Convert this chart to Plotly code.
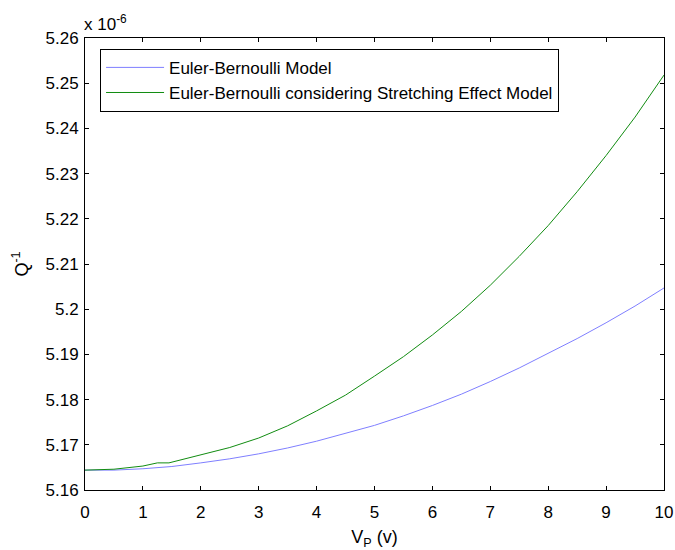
import plotly.graph_objects as go

# Data (Q^-1 in units of 1e-6)
vp_blue = [0, 0.5, 1, 1.5, 2, 2.5, 3, 3.5, 4, 4.5, 5, 5.5, 6, 6.5, 7, 7.5, 8, 8.5, 9, 9.5, 10]
q_blue = [5.1644, 5.1644, 5.1647, 5.1652, 5.1660, 5.1669, 5.1680, 5.1693, 5.1708, 5.1725,
          5.1743, 5.1764, 5.1787, 5.1812, 5.1840, 5.1870, 5.1903, 5.1935, 5.1970, 5.2007, 5.2047]

vp_green = [0, 0.5, 1, 1.25, 1.45, 2, 2.5, 3, 3.5, 4, 4.5, 5, 5.5, 6, 6.5, 7, 7.5, 8, 8.5, 9, 9.5, 10]
q_green = [5.1644, 5.1646, 5.1653, 5.1660, 5.1660, 5.1677, 5.1694, 5.1715, 5.1742, 5.1775, 5.1810,
           5.1852, 5.1895, 5.1943, 5.1995, 5.2053, 5.2117, 5.2185, 5.2260, 5.2340, 5.2425, 5.2518]

names = ["Euler-Bernoulli Model", "Euler-Bernoulli considering Stretching Effect Model"]
x_ticks = list(range(0, 11))
y_ticks = [5.16, 5.17, 5.18, 5.19, 5.20, 5.21, 5.22, 5.23, 5.24, 5.25, 5.26]

FONT = "Liberation Sans, Arial, sans-serif"
FS = 17

fig = go.Figure()
fig.add_trace(go.Scatter(x=vp_blue, y=q_blue, mode="lines", name=names[0],
                         line=dict(color="#7f7fff", width=1)))
fig.add_trace(go.Scatter(x=vp_green, y=q_green, mode="lines", name=names[1],
                         line=dict(color="#118c11", width=1)))

axis_common = dict(showline=True, linecolor="black", linewidth=1, mirror="allticks",
                   ticks="inside", ticklen=4, tickcolor="black", showgrid=False,
                   zeroline=False, automargin=False,
                   tickfont=dict(family=FONT, size=FS, color="black"))

fig.update_xaxes(range=[0, 10], tickvals=x_ticks, ticktext=[str(v) for v in x_ticks],
                 ticklabelstandoff=7,
                 title=dict(text="V<sub>P</sub> (v)", font=dict(family=FONT, size=18, color="black"),
                            standoff=10),
                 **axis_common)
fig.update_yaxes(range=[5.16, 5.26], tickvals=y_ticks,
                 ticktext=[("%.2f" % v).rstrip("0").rstrip(".") for v in y_ticks],
                 ticklabelstandoff=2,
                 title=dict(text="Q<sup>-1</sup>", font=dict(family=FONT, size=18, color="black"),
                            standoff=12),
                 **axis_common)

fig.add_annotation(xref="paper", yref="paper", x=0, y=1, xanchor="left", yanchor="bottom",
                   yshift=2, xshift=-3, showarrow=False,
                   text="x 10<sup>-6</sup>", font=dict(family=FONT, size=17, color="black"))

fig.update_layout(
    width=675, height=550,
    margin=dict(l=85, r=11, t=38, b=60),
    paper_bgcolor="white", plot_bgcolor="white",
    font=dict(family=FONT, color="black"),
    legend=dict(x=0.026, y=0.976, xanchor="left", yanchor="top",
                bgcolor="white", bordercolor="black", borderwidth=1,
                font=dict(family=FONT, size=FS, color="black"),
                itemwidth=58, tracegroupgap=0),
    showlegend=True,
)

fig.write_html("out.html")
